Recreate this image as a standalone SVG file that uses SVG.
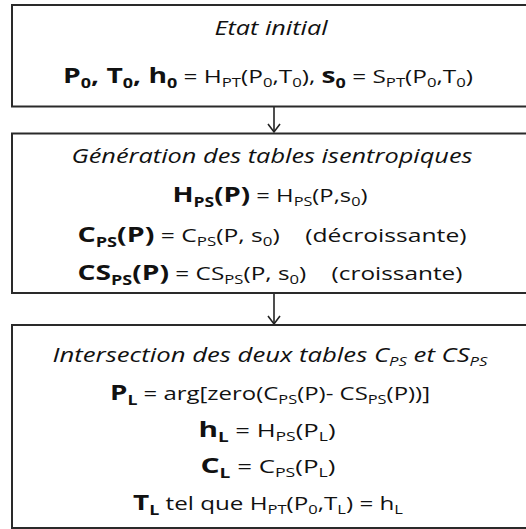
<svg xmlns="http://www.w3.org/2000/svg" width="526" height="529" viewBox="0 0 526 529">
<style>
.box{fill:#fff;stroke:#2a2a2a;stroke-width:2}
.con{stroke:#222;stroke-width:1.6;fill:none}
.t{font-family:"Open Sans","Liberation Sans",sans-serif;fill:#111;text-anchor:middle;white-space:pre}
.it{font-style:italic;font-size:20px}
.b{font-weight:bold;font-size:22px}
.r{font-size:19px}
.s{font-size:13px}
.bs{font-weight:bold;font-size:14px}
</style>
<rect width="526" height="529" fill="#fff"/>
<g id="connectors">
<line class="con" x1="274" y1="107" x2="274" y2="132"/>
<line class="con" x1="274" y1="293" x2="274" y2="324"/>
<path class="con" d="M268 124 L274 132 L280 124"/>
<path class="con" d="M268 316 L274 324 L280 316"/>
</g>
<g id="node1">
<rect class="box" x="12" y="5" width="520" height="101.5"/>
<text class="t it" x="271" y="35" textLength="113" lengthAdjust="spacingAndGlyphs">Etat initial</text>
<text class="t" x="268" y="83" textLength="410" lengthAdjust="spacingAndGlyphs"><tspan class="b">P</tspan><tspan class="bs" dy="5">0</tspan><tspan class="b" dy="-5">, T</tspan><tspan class="bs" dy="5">0</tspan><tspan class="b" dy="-5">, h</tspan><tspan class="bs" dy="5">0</tspan><tspan class="r" dy="-5"> = H</tspan><tspan class="s" dy="4">PT</tspan><tspan class="r" dy="-4">(P</tspan><tspan class="s" dy="4">0</tspan><tspan class="r" dy="-4">,T</tspan><tspan class="s" dy="4">0</tspan><tspan class="r" dy="-4">), </tspan><tspan class="b">s</tspan><tspan class="bs" dy="5">0</tspan><tspan class="r" dy="-5"> = S</tspan><tspan class="s" dy="4">PT</tspan><tspan class="r" dy="-4">(P</tspan><tspan class="s" dy="4">0</tspan><tspan class="r" dy="-4">,T</tspan><tspan class="s" dy="4">0</tspan><tspan class="r" dy="-4">)</tspan></text>
</g>
<g id="node2">
<rect class="box" x="12" y="133.5" width="520" height="159.5"/>
<text class="t it" x="272" y="163" textLength="401" lengthAdjust="spacingAndGlyphs">Génération des tables isentropiques</text>
<text class="t" x="270" y="202" textLength="195" lengthAdjust="spacingAndGlyphs"><tspan class="b">H</tspan><tspan class="bs" dy="5">PS</tspan><tspan class="b" dy="-5">(P)</tspan><tspan class="r"> = H</tspan><tspan class="s" dy="4">PS</tspan><tspan class="r" dy="-4">(P,s</tspan><tspan class="s" dy="4">0</tspan><tspan class="r" dy="-4">)</tspan></text>
<text class="t" x="272" y="242" textLength="389" lengthAdjust="spacingAndGlyphs"><tspan class="b">C</tspan><tspan class="bs" dy="5">PS</tspan><tspan class="b" dy="-5">(P)</tspan><tspan class="r"> = C</tspan><tspan class="s" dy="4">PS</tspan><tspan class="r" dy="-4">(P, s</tspan><tspan class="s" dy="4">0</tspan><tspan class="r" dy="-4">)    (décroissante)</tspan></text>
<text class="t" x="270" y="280" textLength="385" lengthAdjust="spacingAndGlyphs"><tspan class="b">CS</tspan><tspan class="bs" dy="5">PS</tspan><tspan class="b" dy="-5">(P)</tspan><tspan class="r"> = CS</tspan><tspan class="s" dy="4">PS</tspan><tspan class="r" dy="-4">(P, s</tspan><tspan class="s" dy="4">0</tspan><tspan class="r" dy="-4">)    (croissante)</tspan></text>
</g>
<g id="node3">
<rect class="box" x="12" y="325" width="520" height="203"/>
<text class="t it" x="270" y="362" textLength="435" lengthAdjust="spacingAndGlyphs">Intersection des deux tables C<tspan class="s" dy="4">PS</tspan><tspan dy="-4"> et CS</tspan><tspan class="s" dy="4">PS</tspan></text>
<text class="t" x="270" y="400" textLength="320" lengthAdjust="spacingAndGlyphs"><tspan class="b">P</tspan><tspan class="bs" dy="5">L</tspan><tspan class="r" dy="-5"> = arg[zero(C</tspan><tspan class="s" dy="4">PS</tspan><tspan class="r" dy="-4">(P)- CS</tspan><tspan class="s" dy="4">PS</tspan><tspan class="r" dy="-4">(P))]</tspan></text>
<text class="t" x="267" y="437" textLength="137" lengthAdjust="spacingAndGlyphs"><tspan class="b">h</tspan><tspan class="bs" dy="5">L</tspan><tspan class="r" dy="-5"> = H</tspan><tspan class="s" dy="4">PS</tspan><tspan class="r" dy="-4">(P</tspan><tspan class="s" dy="4">L</tspan><tspan class="r" dy="-4">)</tspan></text>
<text class="t" x="268" y="473" textLength="135" lengthAdjust="spacingAndGlyphs"><tspan class="b">C</tspan><tspan class="bs" dy="5">L</tspan><tspan class="r" dy="-5"> = C</tspan><tspan class="s" dy="4">PS</tspan><tspan class="r" dy="-4">(P</tspan><tspan class="s" dy="4">L</tspan><tspan class="r" dy="-4">)</tspan></text>
<text class="t" x="268" y="510" textLength="270" lengthAdjust="spacingAndGlyphs"><tspan class="b">T</tspan><tspan class="bs" dy="5">L</tspan><tspan class="r" dy="-5"> tel que H</tspan><tspan class="s" dy="4">PT</tspan><tspan class="r" dy="-4">(P</tspan><tspan class="s" dy="4">0</tspan><tspan class="r" dy="-4">,T</tspan><tspan class="s" dy="4">L</tspan><tspan class="r" dy="-4">) = h</tspan><tspan class="s" dy="4">L</tspan></text>
</g>
</svg>
